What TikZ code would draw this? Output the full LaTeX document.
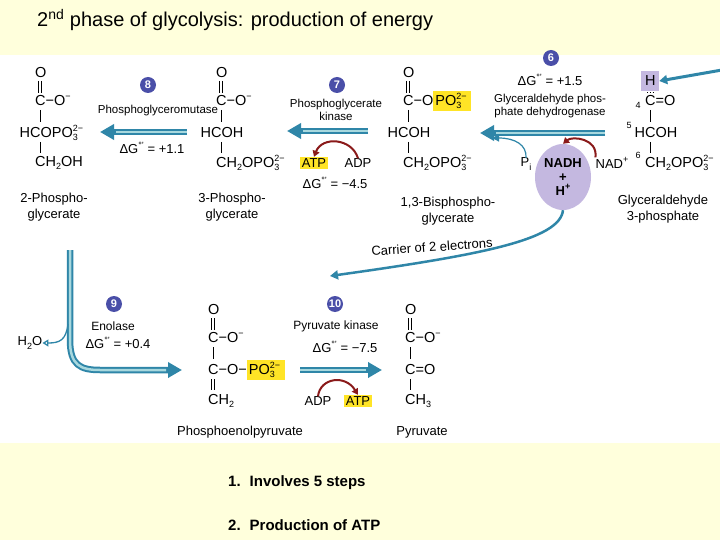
\documentclass[tikz,border=0pt]{standalone}
\usepackage{fontspec}
\setmainfont{Liberation Sans}
\usetikzlibrary{arrows.meta,shapes.geometric}
\definecolor{bgy}{HTML}{FFFFDC}
\definecolor{teal1}{HTML}{2F86A8}
\definecolor{teal2}{HTML}{A8D8DE}
\definecolor{numc}{HTML}{4A4FA8}
\definecolor{purp}{HTML}{C4B8E0}
\definecolor{hl}{HTML}{FFE426}
\definecolor{redarr}{HTML}{8A1A1A}
\newcommand\myss[2]{\makebox[0pt][l]{\raisebox{0.8ex}{\fontsize{9}{9}\selectfont #2}}\raisebox{-0.45ex}{\fontsize{9}{9}\selectfont #1}}
\newcommand\mysub[1]{\raisebox{-0.45ex}{\fontsize{9}{9}\selectfont #1}}
\newcommand\mysup[1]{\raisebox{0.8ex}{\fontsize{9}{9}\selectfont #1}}
\newcommand\POt{PO\myss{3}{2−}\hspace{8pt}}
\newcommand\hlPO{{\setlength{\fboxsep}{2pt}\colorbox{hl}{PO\myss{3}{2−}\hspace{8pt}}}}
\newcommand\dG{ΔG\mysup{°'}}
\begin{document}
\begin{tikzpicture}[x=1pt,y=-1pt,
  chem/.style={inner sep=0pt,anchor=west,font=\fontsize{14.5}{16}\selectfont},
  lab/.style={inner sep=0pt,font=\fontsize{13}{16}\selectfont,align=center},
  enz/.style={inner sep=0pt,font=\fontsize{11.5}{13}\selectfont,align=center},
  num/.style={circle,fill=numc,text=white,inner sep=0pt,minimum size=16pt,font=\bfseries\fontsize{11}{11}\selectfont},
  bond/.style={line width=1pt},
  hlbox/.style={fill=hl,inner sep=1.5pt},
  curv/.style={redarr,line width=2pt,-{Triangle[length=6pt,width=7pt]}},
  thin/.style={teal1,line width=1.6pt,-{Triangle[length=8pt,width=9pt]}}]
\useasboundingbox (0,0) rectangle (720,540);
\fill[bgy] (0,0) rectangle (720,540);
\fill[white] (0,55) rectangle (720,443);
\node[anchor=west,inner sep=0pt,font=\fontsize{20}{22}\selectfont] (title) at (37,20) {2\textsuperscript{nd} phase of glycolysis: production of energy};
\newcommand\sbond[3]{\draw[bond] (#1,#2) -- (#1,#3);}
\newcommand\dbond[3]{\draw[bond] (#1-1.5,#2) -- (#1-1.5,#3) (#1+1.5,#2) -- (#1+1.5,#3);}
% 2-phosphoglycerate (C x=40)
\node[chem] (a1) at (35,73) {O}; \dbond{40}{81}{93}
\node[chem] (a2) at (35,101) {C−O\mysup{−}}; \sbond{40}{110}{122}
\node[chem] (a3) at (19.5,133) {HCO\POt}; \sbond{40}{142}{153}
\node[chem] (a4) at (35,163) {CH\mysub{2}OH};
\node[lab] (a5) at (54,207) {2-Phospho-\\glycerate};
% 3-phosphoglycerate (C x=221)
\node[chem] (b1) at (216,73) {O}; \dbond{221}{81}{93}
\node[chem] (b2) at (216,101) {C−O\mysup{−}}; \sbond{221}{110}{122}
\node[chem] (b3) at (200.5,133) {HCOH}; \sbond{221}{142}{153}
\node[chem] (b4) at (216,163) {CH\mysub{2}O\POt};
\node[lab] (b5) at (232,207) {3-Phospho-\\glycerate};
% 1,3-BPG (C x=408)
\node[chem] (c1) at (403,73) {O}; \dbond{408}{81}{93}
\node[chem] (c2) at (403,101) {C−O\hlPO};
\sbond{408}{110}{122}
\node[chem] (c3) at (387.5,133) {HCOH}; \sbond{408}{142}{153}
\node[chem] (c4) at (403,163) {CH\mysub{2}O\POt};
\node[lab] (c5) at (448,211) {1,3-Bisphospho-\\glycerate};
% G3P (C x=650)
\node[fill=purp,minimum width=18pt,minimum height=20pt,inner sep=0pt] (hbox) at (650,81) {};
\node[chem] (d0) at (645,81) {H};
\draw[line width=0.8pt,dotted] (647,92) -- (653,92);
\node[chem] (d1) at (645,101) {C=O}; \node[inner sep=0pt,font=\fontsize{9}{9}\selectfont] at (638,105) {4};
\sbond{650}{110}{122}
\node[chem] (d2) at (634.5,133) {HCOH}; \node[inner sep=0pt,font=\fontsize{9}{9}\selectfont] at (629,125) {5};
\sbond{650}{142}{153}
\node[chem] (d3) at (645,163) {CH\mysub{2}O\POt}; \node[inner sep=0pt,font=\fontsize{9}{9}\selectfont] at (638,155) {6};
\node[lab] (d4) at (663,209) {Glyceraldehyde\\3-phosphate};
% big arrows
\newcommand\bigarr[2]{\draw[teal1,line width=6.5pt,-{Triangle[length=14pt,width=15pt]}] #1 -- #2; \draw[teal2,line width=2.5pt,shorten >=16pt] #1 -- #2;}
\coordinate (s8) at (187,132); \coordinate (e8) at (100,132);
\bigarr{(s8)}{(e8)}
\coordinate (s7) at (368,131); \coordinate (e7) at (287,131);
\bigarr{(s7)}{(e7)}
\coordinate (s6) at (605,133); \coordinate (e6) at (480,133);
\bigarr{(s6)}{(e6)}
\coordinate (s5) at (722,70);
\draw[thin,line width=3pt] (s5) -- (hbox.east);
% numbers
\node[num] (n8) at (148,85) {8};
\node[num] (n7) at (337,85) {7};
\node[num] (n6) at (551,58) {6};
\node[num] (n9) at (114,304) {9};
\node[num] (n10) at (335,304) {10};
% enzymes
\node[enz] (z8) at (158,111) {Phosphoglyceromutase};
\node[lab] (g8) at (152,148) {\dG{} = +1.1};
\node[enz] (z7) at (336,110) {Phosphoglycerate\\kinase};
\node[hlbox,font=\fontsize{13}{15}\selectfont] (atp7) at (314,163) {ATP};
\node[lab] (adp7) at (358,163) {ADP};
\node[lab] (g7) at (335,183) {\dG{} = −4.5};
\draw[curv] (adp7.north) .. controls (352,138) and (322,136) .. (atp7.north);
\node[lab] (g6) at (550,80) {\dG{} = +1.5};
\node[enz] (z6) at (550,106) {Glyceraldehyde phos-\\phate dehydrogenase};
\node[ellipse,fill=purp,minimum width=56pt,minimum height=66pt,inner sep=0pt,align=center,font=\bfseries\fontsize{13}{14}\selectfont] (nadh) at (563,177) {NADH\\+\\H\mysup{+}};
\node[lab] (pi) at (526,164) {P\mysub{i}};
\node[lab] (nad) at (612,163) {NAD\mysup{+}};
\draw[curv] (nad.north west) .. controls (598,138) and (572,136) .. (nadh.north);
\draw[teal1,line width=1.2pt,-{Triangle[length=7pt,width=7pt]}] (pi.north) .. controls (527,145) and (515,138) .. (492,138);
\node[lab,rotate=4] (carrier) at (432,247) {Carrier of 2 electrons};
\coordinate (cend) at (330,276);
\draw[thin,line width=2.5pt] (nadh.south) .. controls (560,240) and (480,255) .. (cend);
% bend arrow
\coordinate (v1) at (70,250); \coordinate (v3) at (182,370);
\draw[teal1,line width=6.5pt,-{Triangle[length=14pt,width=15pt]}] (v1) -- (70,340) .. controls (70,365) and (80,370) .. (100,370) -- (v3);
\draw[teal2,line width=2.5pt,shorten >=16pt] (v1) -- (70,340) .. controls (70,365) and (80,370) .. (100,370) -- (v3);
\node[lab] (h2o) at (30,343) {H\mysub{2}O};
\draw[teal1,line width=1.3pt,-{Triangle[open,length=6pt,width=7pt]}] (68,324) .. controls (66,340) and (60,343) .. (h2o.east);
\node[enz,font=\fontsize{12}{14}\selectfont] (z9) at (113,326) {Enolase};
\node[lab] (g9) at (118,343) {\dG{} = +0.4};
% PEP (C x=213)
\node[chem] (e1) at (208,310) {O}; \dbond{213}{318}{330}
\node[chem] (e2) at (208,338) {C−O\mysup{−}}; \sbond{213}{347}{359}
\node[chem] (e3) at (208,370) {C−O−\hlPO}; \dbond{213}{379}{390}
\node[chem] (e4) at (208,401) {CH\mysub{2}};
\node[lab] (e5) at (240,432) {Phosphoenolpyruvate};
% arrow 10
\coordinate (s10) at (300,370); \coordinate (e10) at (382,370);
\bigarr{(s10)}{(e10)}
\node[enz,font=\fontsize{12}{14}\selectfont] (z10) at (336,326) {Pyruvate kinase};
\node[lab] (g10) at (345,347) {\dG{} = −7.5};
\node[lab] (adp10) at (318,401) {ADP};
\node[hlbox,font=\fontsize{13}{15}\selectfont] (atp10) at (358,401) {ATP};
\draw[curv] (adp10.north) .. controls (320,378) and (345,374) .. (atp10.north);
% pyruvate (C x=410)
\node[chem] (f1) at (405,310) {O}; \dbond{410}{318}{330}
\node[chem] (f2) at (405,338) {C−O\mysup{−}}; \sbond{410}{347}{359}
\node[chem] (f3) at (405,370) {C=O}; \sbond{410}{379}{390}
\node[chem] (f4) at (405,401) {CH\mysub{3}};
\node[lab] (f5) at (422,432) {Pyruvate};
% list
\node[anchor=west,inner sep=0pt,font=\bfseries\fontsize{15}{17}\selectfont] (l1) at (228,483) {1.\hspace{0.6em}Involves 5 steps};
\node[anchor=west,inner sep=0pt,font=\bfseries\fontsize{15}{17}\selectfont] (l2) at (228,525) {2.\hspace{0.6em}Production of ATP};
\end{tikzpicture}
\end{document}
